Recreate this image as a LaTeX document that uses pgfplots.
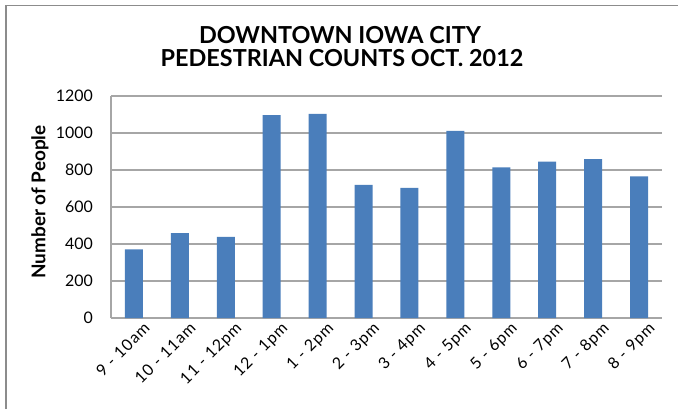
\documentclass[border=0pt]{standalone}
\usepackage{fontspec}
\setmainfont{Lato}
\usepackage{pgfplots}
\pgfplotsset{compat=1.18}
\definecolor{barblue}{HTML}{4A7EBB}
\definecolor{gridgray}{HTML}{A6A6A6}
\definecolor{framegray}{HTML}{8C8C8C}
\begin{document}
\begin{tikzpicture}[x=1bp,y=1bp]
\useasboundingbox (0,0) rectangle (678,409);
\draw[framegray, line width=1.6bp] (6,0) -- (6,403.5) -- (678,403.5);
\begin{axis}[
  at={(111bp,91bp)}, anchor=south west,
  scale only axis, width=551bp, height=222bp,
  xmin=-0.5, xmax=11.5, ymin=0, ymax=1200,
  ytick={0,200,...,1200},
  xtick=data,
  xticklabels={9 - 10am,10 - 11am,11 - 12pm,12 - 1pm,1 - 2pm,2 - 3pm,3 - 4pm,4 - 5pm,5 - 6pm,6 - 7pm,7 - 8pm,8 - 9pm},
  xticklabel style={rotate=45, anchor=north east, inner sep=0bp, xshift=4bp, yshift=-8bp, font=\fontsize{16}{18}\selectfont\addfontfeature{LetterSpace=6}},
  yticklabel style={font=\fontsize{16}{19}\selectfont, inner sep=0bp, xshift=-18bp},
  /pgf/number format/assume math mode=true,
  /pgf/number format/1000 sep={},
  major tick length=0pt,
  ymajorgrids,
  grid style={gridgray, line width=1.2bp},
  axis x line*=bottom, axis y line*=left,
  axis line style={-, gridgray, line width=1.2bp},
  ybar, bar width=18bp,
]
\addplot[fill=barblue, draw=none] coordinates {
(0,371) (1,459) (2,438) (3,1096) (4,1104) (5,719) (6,704) (7,1011) (8,814) (9,845) (10,859) (11,766)};
\end{axis}
\node[anchor=base, font=\fontsize{23.5}{27}\bfseries\selectfont] at (340,365.7) {DOWNTOWN IOWA CITY};
\node[anchor=base, font=\fontsize{23.5}{27}\bfseries\selectfont] at (342,342.5) {PEDESTRIAN COUNTS OCT. 2012};
\node[rotate=90, font=\fontsize{19}{22}\bfseries\selectfont] at (40,207) {Number of People};
\end{tikzpicture}
\end{document}
